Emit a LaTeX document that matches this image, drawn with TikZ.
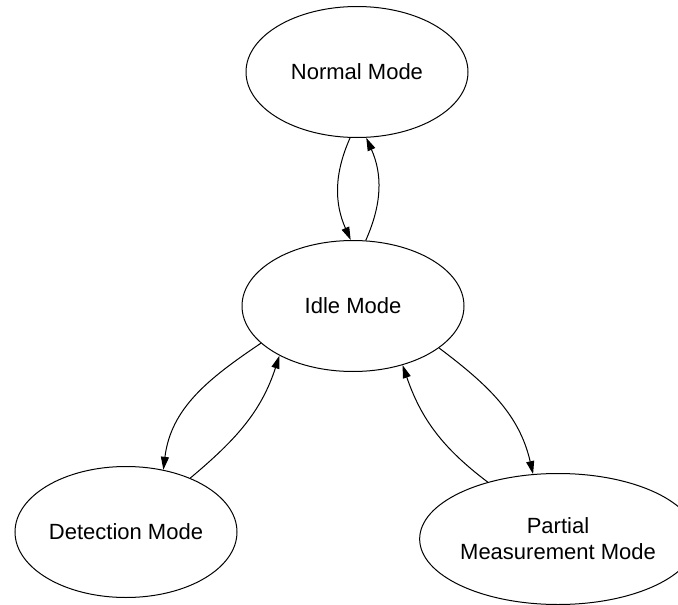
\documentclass[tikz,border=0pt]{standalone}
\usepackage{fontspec}
\setmainfont{Liberation Sans}
\usetikzlibrary{shapes.geometric}
\usetikzlibrary{arrows.meta}
\tikzstyle{mode}=[ellipse,draw,line width=1pt,minimum width=222pt,minimum height=131pt,inner sep=0pt,align=center,font=\fontsize{22}{26}\selectfont]
\tikzstyle{edge} = [draw,line width=1pt,-{Triangle[length=13pt,width=8pt]}]

\begin{document}
\begin{tikzpicture}[x=1pt,y=-1pt]

  \useasboundingbox (0,0) rectangle (678,605);

  \foreach \y/\x/\name/\label in {72/357/normal/{Normal Mode}, 306/353/idle/{Idle Mode}, 532/126/detect/{Detection Mode}, 539/558/partial/{Partial\\Measurement Mode}}
        \node[mode] (\name) at (\x, \y) {\label};

  % idle <-> normal
  \foreach \source/ \dest /\o/\i in {normal.264/idle.92/246/114, idle.79/normal.278/66/294}
        \draw[edge] (\source) to[out=\o, in=\i] (\dest);

  % idle <-> detection, idle <-> partial
  \foreach \source/ \dest /\o/\i in {idle.202/detect.59/214/83, detect.40/idle.214/40/252, idle.334/partial.111/-37/103, partial.141/idle.310/143/289}
        \draw[edge] (\source) to[out=\o, in=\i] (\dest);

\end{tikzpicture}
\end{document}
